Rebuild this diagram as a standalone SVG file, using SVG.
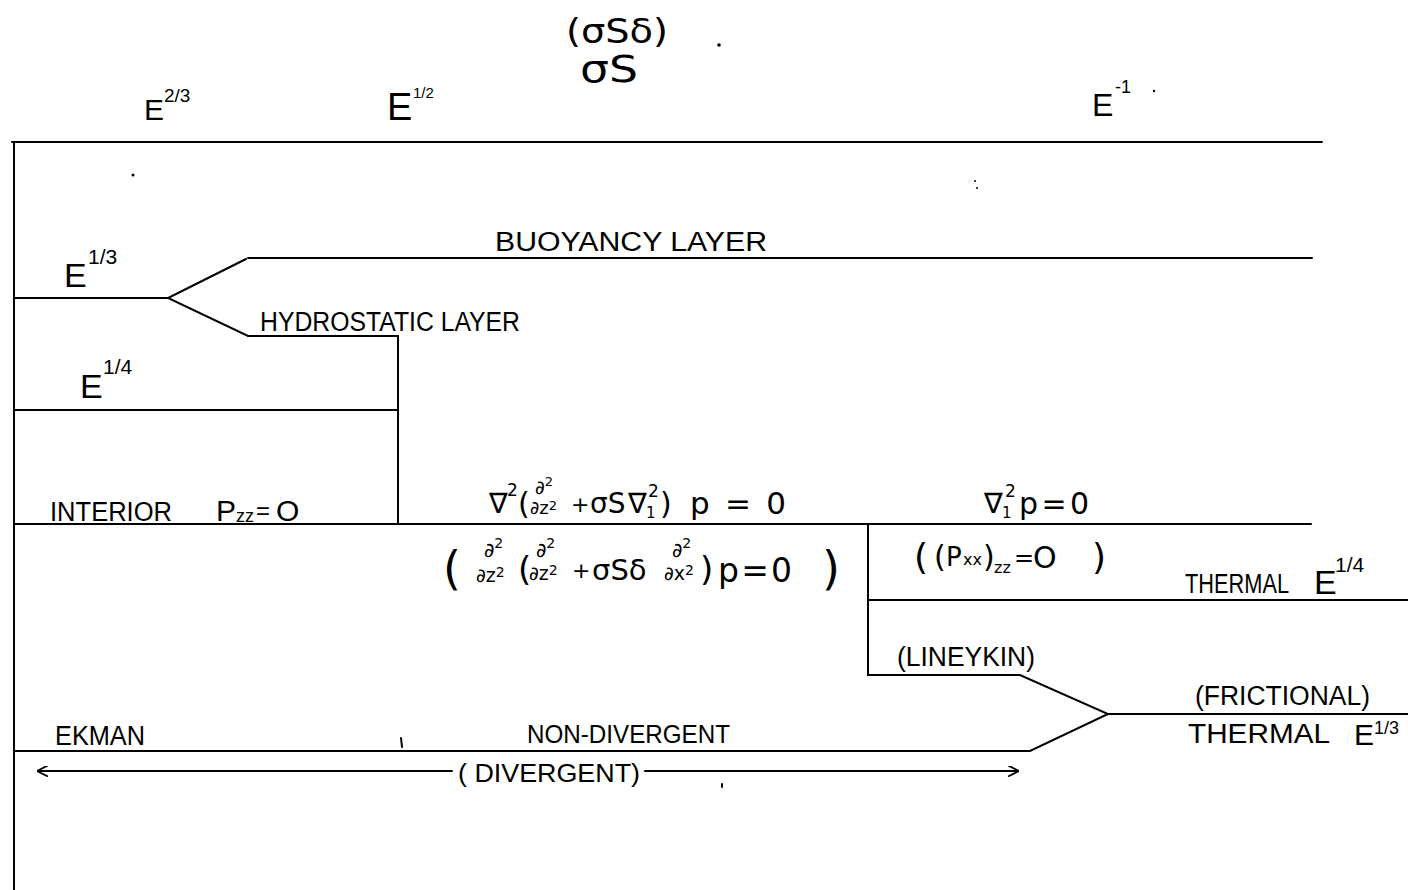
<svg xmlns="http://www.w3.org/2000/svg" width="1408" height="890" viewBox="0 0 1408 890">
<style>
  .ln { stroke:#000; stroke-width:2; fill:none; stroke-linecap:round; }
  .t { font-family:"Liberation Sans", Arial, sans-serif; fill:#000; }
  .m { font-family:"DejaVu Sans", "Liberation Sans", sans-serif; fill:#000; }
  .dot { fill:#000; }
</style>
<defs>
  <marker id="open" viewBox="0 0 10 10" refX="9" refY="5" markerWidth="11" markerHeight="11" markerUnits="userSpaceOnUse" orient="auto-start-reverse">
    <path d="M0,0 L10,5 L0,10" fill="none" stroke="#000" stroke-width="1.6"/>
  </marker>
</defs>
<rect width="1408" height="890" fill="#fff"/>

<g id="connectors">
  <line class="ln" x1="12" y1="142" x2="1322" y2="142"/>
  <line class="ln" x1="14" y1="142" x2="14" y2="890"/>
  <line class="ln" x1="248" y1="258" x2="1312" y2="258"/>
  <line class="ln" x1="14" y1="298" x2="168" y2="298"/>
  <polyline class="ln" points="246,259 168,298 248,336 398,336 398,524"/>
  <line class="ln" x1="14" y1="410" x2="398" y2="410"/>
  <line class="ln" x1="14" y1="524" x2="1311" y2="524"/>
  <polyline class="ln" points="868,524 868,675 1020,675 1108,714 1030,751 14,751"/>
  <line class="ln" x1="1108" y1="714" x2="1408" y2="714"/>
  <line class="ln" x1="868" y1="600" x2="1408" y2="600"/>
  <line class="ln" x1="38" y1="771" x2="452" y2="771" marker-start="url(#open)"/>
  <line class="ln" x1="645" y1="771" x2="1018" y2="771" marker-end="url(#open)"/>
  <line class="ln" x1="401" y1="738" x2="402" y2="747"/>
  <line class="ln" x1="722" y1="784" x2="722" y2="787"/>
</g>

<g id="params-top">
  <text class="t" x="144" y="120" font-size="30">E</text>
  <text class="t" x="164" y="102" font-size="19">2/3</text>
  <text class="t" x="387" y="120" font-size="38">E</text>
  <text class="t" x="413" y="98" font-size="15">1/2</text>
  <text class="m" x="566" y="43" font-size="33" textLength="102" lengthAdjust="spacingAndGlyphs">(σSδ)</text>
  <text class="m" x="580" y="82" font-size="38" textLength="58" lengthAdjust="spacingAndGlyphs">σS</text>
  <circle class="dot" cx="719" cy="45" r="1.8"/>
  <text class="t" x="1092" y="116" font-size="32">E</text>
  <text class="t" x="1115" y="93" font-size="18">-1</text>
  <circle class="dot" cx="1154" cy="91" r="1.2"/>
  <circle class="dot" cx="133" cy="175" r="1.5"/>
  <circle class="dot" cx="975" cy="181" r="1"/>
  <circle class="dot" cx="977" cy="188" r="1"/>
</g>

<g id="buoyancy-layer">
  <text class="t" x="495" y="251" font-size="27" textLength="272" lengthAdjust="spacingAndGlyphs">BUOYANCY LAYER</text>
  <text class="t" x="64" y="287" font-size="34">E</text>
  <text class="t" x="88" y="264" font-size="21">1/3</text>
</g>

<g id="hydrostatic-layer">
  <text class="t" x="260" y="331" font-size="27" textLength="260" lengthAdjust="spacingAndGlyphs">HYDROSTATIC LAYER</text>
  <text class="t" x="80" y="398" font-size="34">E</text>
  <text class="t" x="103" y="374" font-size="21">1/4</text>
</g>

<g id="interior">
  <text class="t" x="50" y="521" font-size="27" textLength="122" lengthAdjust="spacingAndGlyphs">INTERIOR</text>
  <text class="t" x="216" y="521" font-size="30">P</text>
  <text class="t" x="236" y="522" font-size="18">zz</text>
  <text class="t" x="256" y="519" font-size="24">=</text>
  <text class="t" x="276" y="521" font-size="30">O</text>
</g>

<g id="equation-main">
  <text class="m" x="489" y="513" font-size="28">∇</text>
  <text class="m" x="507" y="496" font-size="17">2</text>
  <text class="m" x="518" y="514" font-size="30">(</text>
  <text class="m" x="535" y="494" font-size="19">∂<tspan font-size="13" dy="-8">2</tspan></text>
  <text class="m" x="530" y="514" font-size="18">∂z<tspan font-size="13" dy="-4">2</tspan></text>
  <text class="m" x="571" y="512" font-size="22">+</text>
  <text class="m" x="590" y="513" font-size="28">σS</text>
  <text class="m" x="628" y="513" font-size="28">∇</text>
  <text class="m" x="646" y="518" font-size="15">1</text>
  <text class="m" x="648" y="497" font-size="17">2</text>
  <text class="m" x="660" y="514" font-size="30">)</text>
  <text class="m" x="690" y="514" font-size="31" textLength="96" lengthAdjust="spacing">p=0</text>

  <text class="m" x="443" y="584" font-size="46">(</text>
  <text class="m" x="484" y="557" font-size="20">∂<tspan font-size="14" dy="-9">2</tspan></text>
  <text class="m" x="476" y="582" font-size="19">∂z<tspan font-size="14" dy="-5">2</tspan></text>
  <text class="m" x="518" y="581" font-size="34">(</text>
  <text class="m" x="536" y="557" font-size="20">∂<tspan font-size="14" dy="-9">2</tspan></text>
  <text class="m" x="529" y="580" font-size="19">∂z<tspan font-size="14" dy="-5">2</tspan></text>
  <text class="m" x="572" y="578" font-size="22">+</text>
  <text class="m" x="592" y="580" font-size="29">σSδ</text>
  <text class="m" x="672" y="557" font-size="20">∂<tspan font-size="14" dy="-9">2</tspan></text>
  <text class="m" x="664" y="580" font-size="19">∂x<tspan font-size="14" dy="-5">2</tspan></text>
  <text class="m" x="700" y="581" font-size="34">)</text>
  <text class="m" x="718" y="582" font-size="33" textLength="74" lengthAdjust="spacing">p=0</text>
  <text class="m" x="822" y="584" font-size="46">)</text>
</g>

<g id="thermal-quarter">
  <text class="m" x="984" y="513" font-size="28">∇</text>
  <text class="m" x="1002" y="518" font-size="15">1</text>
  <text class="m" x="1005" y="497" font-size="17">2</text>
  <text class="m" x="1019" y="514" font-size="30" textLength="70" lengthAdjust="spacing">p=0</text>
  <text class="m" x="914" y="569" font-size="36">(</text>
  <text class="m" x="934" y="567" font-size="30">(</text>
  <text class="m" x="946" y="566" font-size="26">P</text>
  <text class="m" x="963" y="565" font-size="16">xx</text>
  <text class="m" x="983" y="567" font-size="30">)</text>
  <text class="m" x="994" y="573" font-size="16">zz</text>
  <text class="m" x="1014" y="566" font-size="24">=</text>
  <text class="m" x="1033" y="568" font-size="30">O</text>
  <text class="m" x="1092" y="569" font-size="36">)</text>
  <text class="t" x="1185" y="593" font-size="27" textLength="104" lengthAdjust="spacingAndGlyphs">THERMAL</text>
  <text class="t" x="1314" y="594" font-size="34">E</text>
  <text class="t" x="1335" y="572" font-size="21">1/4</text>
</g>

<g id="lineykin">
  <text class="t" x="897" y="666" font-size="27" textLength="138" lengthAdjust="spacingAndGlyphs">(LINEYKIN)</text>
</g>

<g id="frictional-thermal">
  <text class="t" x="1195" y="705" font-size="27" textLength="175" lengthAdjust="spacingAndGlyphs">(FRICTIONAL)</text>
  <text class="t" x="1188" y="743" font-size="27" textLength="142" lengthAdjust="spacingAndGlyphs">THERMAL</text>
  <text class="t" x="1354" y="745" font-size="30">E</text>
  <text class="t" x="1374" y="734" font-size="18">1/3</text>
</g>

<g id="ekman">
  <text class="t" x="55" y="745" font-size="27" textLength="90" lengthAdjust="spacingAndGlyphs">EKMAN</text>
  <text class="t" x="527" y="743" font-size="25" textLength="203" lengthAdjust="spacingAndGlyphs">NON-DIVERGENT</text>
  <text class="t" x="458" y="782" font-size="25" textLength="182" lengthAdjust="spacingAndGlyphs">( DIVERGENT)</text>
</g>
</svg>
